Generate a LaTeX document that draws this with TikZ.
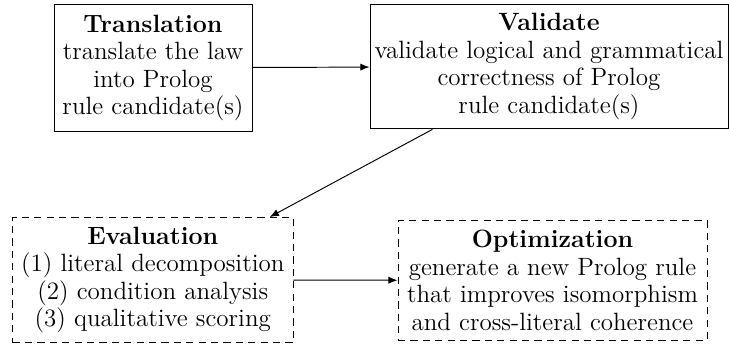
\documentclass[tikz,border=0pt]{standalone}
\usetikzlibrary{arrows.meta}
\begin{document}
\begin{tikzpicture}[x=0.5pt,y=-0.5pt,
  stage/.style={rectangle,draw,line width=0.48pt,align=center,inner sep=0pt,
    font=\fontsize{12.5}{13.7}\selectfont},
  solidstage/.style={stage},
  dashedstage/.style={stage,dash pattern=on 3.6pt off 2.6pt},
  flow/.style={line width=0.48pt,-{Latex[length=4.6pt,width=3.6pt]}}]
\useasboundingbox (0,0) rectangle (729,345);

\node[solidstage,minimum width=99pt,minimum height=63.2pt] (trans) at (153,67.8)
  {\textbf{Translation}\\translate the law\\into Prolog\\rule candidate(s)};
\node[solidstage,minimum width=179pt,minimum height=62.4pt] (valid) at (549,66.5)
  {\textbf{Validate}\\validate logical and grammatical\\correctness of Prolog\\rule candidate(s)};
\node[dashedstage,minimum width=140.2pt,minimum height=62.6pt] (eval) at (152.8,280.1)
  {\textbf{Evaluation}\\(1) literal decomposition\\(2) condition analysis\\(3) qualitative scoring};
\node[dashedstage,minimum width=154.5pt,minimum height=59.8pt] (opt) at (552.5,280.3)
  {\textbf{Optimization}\\generate a new Prolog rule\\that improves isomorphism\\and cross-literal coherence};

\draw[flow] (trans) -- (valid);
\draw[flow] (valid) -- (eval);
\draw[flow] (eval) -- (opt);
\end{tikzpicture}
\end{document}
